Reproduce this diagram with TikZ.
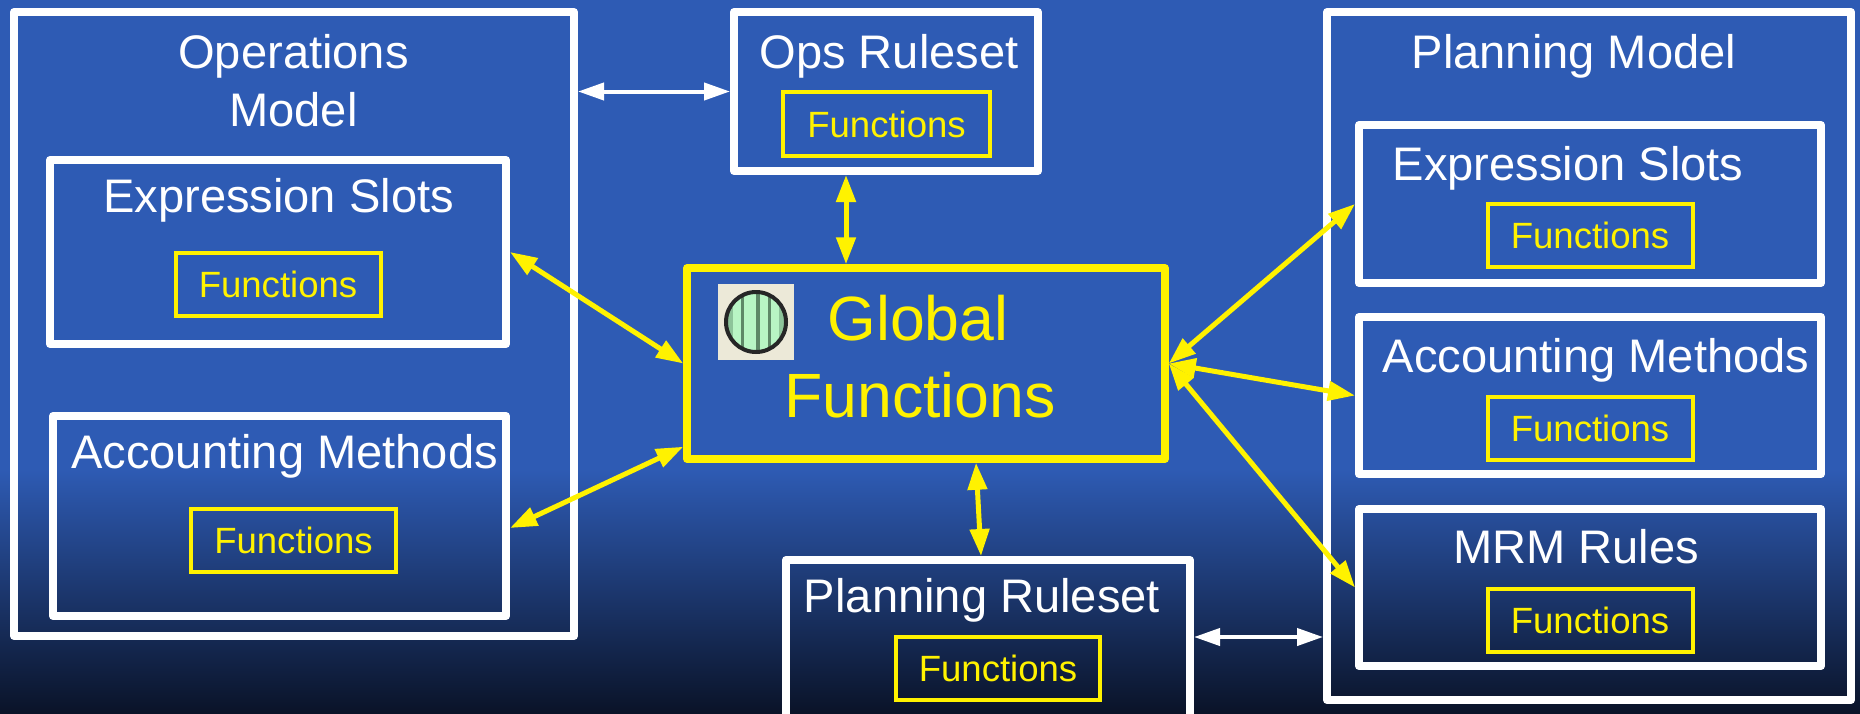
\documentclass[tikz,border=0pt]{standalone}
\usepackage{fontspec}
\setmainfont{Liberation Sans}
\usetikzlibrary{arrows.meta}

\definecolor{slide}{HTML}{2E5BB4}
\definecolor{slidedark}{HTML}{0A1328}
\definecolor{iconbg}{HTML}{ECE9D8}
\definecolor{iconlight}{HTML}{B8F5C4}
\definecolor{iconmid}{HTML}{8DC49A}
\definecolor{icondark}{HTML}{5E8867}

\begin{document}
\begin{tikzpicture}[y=-1cm,
  wbox/.style={draw=white, line width=0.08cm, line join=round, inner sep=0pt},
  fbox/.style={draw=yellow, line width=0.04cm, text=yellow, inner sep=0pt,
    font=\fontsize{10.4}{12.5}\selectfont, minimum width=2.05cm, minimum height=0.63cm},
  ttl/.style={text=white, font=\fontsize{13.4}{16}\selectfont, anchor=base, inner sep=0pt},
  gttl/.style={text=yellow, font=\fontsize{17.8}{21}\selectfont, anchor=base, inner sep=0pt},
  tip/.style={Triangle[length=0.27cm,width=0.18cm]},
  warr/.style={draw=white, line width=0.04cm, {Triangle[length=0.26cm,width=0.17cm]}-{Triangle[length=0.26cm,width=0.17cm]}},
  yarr/.style={draw=yellow, line width=0.05cm, {Triangle[length=0.27cm,width=0.19cm]}-{Triangle[length=0.27cm,width=0.19cm]}}]

\useasboundingbox (0,0) rectangle (18.6,7.13) ;
\fill[slide] (0,0) rectangle (18.6,4.7) ;
\shade[top color=slide, bottom color=slidedark] (0,4.69) rectangle (18.6,7.13) ;

% operations model
\node[wbox, minimum width=5.6cm, minimum height=6.24cm] (opsm) at (2.94,3.24) {} ;
\node[ttl] (opsmt) at (2.935,0.68) {Operations} ;
\node[ttl] (opsmt2) at (2.935,1.26) {Model} ;
\node[wbox, minimum width=4.56cm, minimum height=1.84cm] (opsx) at (2.78,2.52) {} ;
\node[ttl] (opsxt) at (2.786,2.12) {Expression Slots} ;
\node[fbox] (opsxf) at (2.78,2.845) {Functions} ;
\node[wbox, minimum width=4.53cm, minimum height=2.0cm] (opsa) at (2.795,5.16) {} ;
\node[ttl] (opsat) at (2.846,4.68) {Accounting Methods} ;
\node[fbox] (opsaf) at (2.935,5.40) {Functions} ;

% ops ruleset
\node[wbox, minimum width=3.04cm, minimum height=1.59cm] (opsr) at (8.86,0.915) {} ;
\node[ttl] (opsrt) at (8.89,0.68) {Ops Ruleset} ;
\node[fbox, minimum width=2.07cm, minimum height=0.64cm] (opsrf) at (8.865,1.24) {Functions} ;

% global functions
\node[draw=yellow, line width=0.075cm, line join=round, minimum width=4.78cm, minimum height=1.91cm] (gf) at (9.26,3.635) {} ;
\fill[iconbg] (7.18,2.84) rectangle (7.94,3.60) ;
\begin{scope}
\clip (7.56,3.22) circle (0.3) ;
\fill[iconlight] (7.2,2.9) rectangle (7.9,3.55) ;
\fill[iconmid] (7.28,2.9) rectangle (7.33,3.55) ;
\fill[iconmid] (7.79,2.9) rectangle (7.84,3.55) ;
\fill[icondark] (7.41,2.9) rectangle (7.44,3.55) ;
\fill[icondark] (7.555,2.9) rectangle (7.60,3.55) ;
\fill[icondark] (7.68,2.9) rectangle (7.71,3.55) ;
\end{scope}
\draw[black!85, line width=0.04cm] (7.56,3.22) circle (0.3) ;
\node[gttl] (gft) at (9.18,3.40) {Global} ;
\node[gttl] (gft2) at (9.20,4.17) {Functions} ;

% planning ruleset
\node[wbox, minimum width=4.04cm, minimum height=2.0cm] (plnr) at (9.88,6.60) {} ;
\node[ttl] (plnrt) at (9.82,6.12) {Planning Ruleset} ;
\node[fbox, minimum width=2.04cm] (plnrf) at (9.98,6.685) {Functions} ;

% planning model
\node[wbox, minimum width=5.24cm, minimum height=6.88cm] (plnm) at (15.89,3.56) {} ;
\node[ttl] (plnmt) at (15.74,0.68) {Planning Model} ;
\node[wbox, minimum width=4.62cm, minimum height=1.58cm] (plnx) at (15.90,2.04) {} ;
\node[ttl] (plnxt) at (15.68,1.80) {Expression Slots} ;
\node[fbox] (plnxf) at (15.90,2.355) {Functions} ;
\node[wbox, minimum width=4.62cm, minimum height=1.57cm] (plna) at (15.90,3.955) {} ;
\node[ttl] (plnat) at (15.96,3.72) {Accounting Methods} ;
\node[fbox] (plnaf) at (15.90,4.285) {Functions} ;
\node[wbox, minimum width=4.62cm, minimum height=1.57cm] (mrm) at (15.90,5.875) {} ;
\node[ttl] (mrmt) at (15.76,5.63) {MRM Rules} ;
\node[fbox] (mrmf) at (15.90,6.20) {Functions} ;

% white links
\draw[warr] (opsm.east |- opsr.west) -- (opsr.west) ;
\coordinate (prw) at ([yshift=2.3mm]plnr.east) ;
\draw[warr] (prw) -- (prw -| plnm.west) ;

% yellow links
\coordinate (orb) at ([xshift=-4mm]opsr.south) ;
\draw[yarr] (orb) -- (orb |- gf.north) ;
\draw[yarr] ([xshift=5mm]gf.south) -- ([xshift=-0.7mm]plnr.north) ;
\draw[yarr] (opsx.east) -- (gf.west) ;
\draw[yarr] ([yshift=-1.2mm]opsa.east) -- ([yshift=1.6mm]gf.south west) ;
\draw[yarr] (gf.east) -- (plnx.west) ;
\draw[yarr] (gf.east) -- (plna.west) ;
\draw[yarr] (gf.east) -- (mrm.west) ;
\end{tikzpicture}
\end{document}
